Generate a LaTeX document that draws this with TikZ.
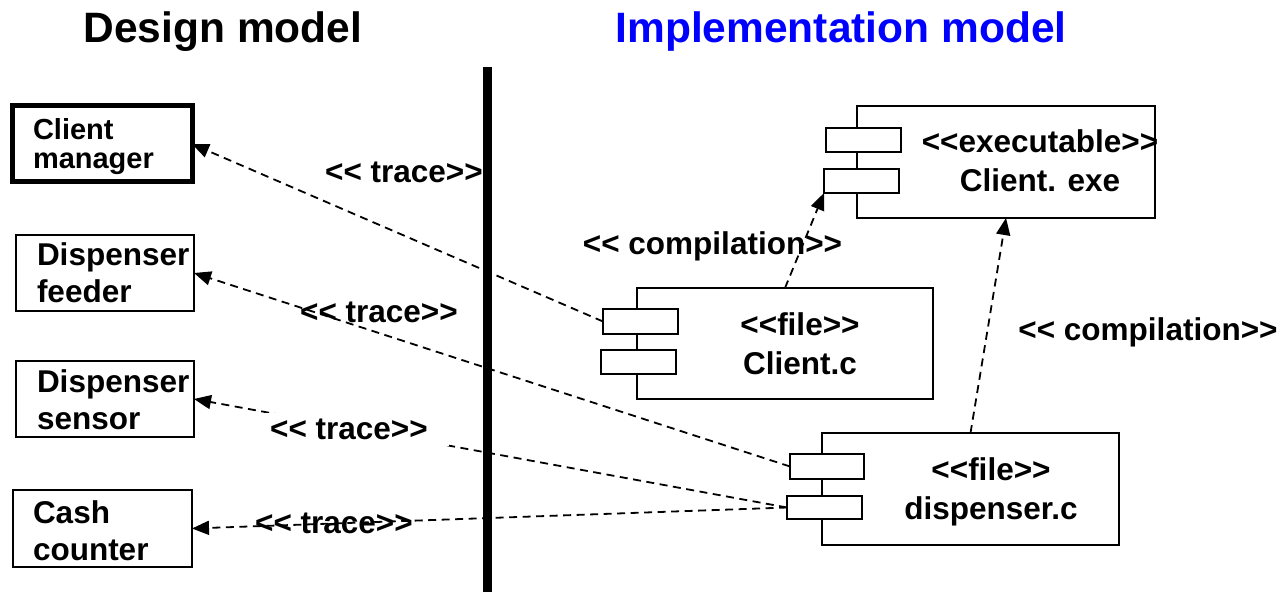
\documentclass[tikz,border=0pt]{standalone}
\usepackage{fontspec}
% plain font family, without the TeX input ligatures that turn << into a guillemet
\newfontfamily\umlfont{Liberation Sans}
\usetikzlibrary{arrows.meta}
\definecolor{implblue}{RGB}{0,0,255}
\begin{document}
\begin{tikzpicture}[x=1pt,y=-1pt,
  every node/.style={inner sep=0pt, outer sep=0pt},
  heading/.style={font=\umlfont\fontsize{42.5}{50}\selectfont\bfseries, anchor=base},
  txt/.style={font=\umlfont\fontsize{31.5}{37}\selectfont\bfseries},
  boxtext/.style={txt, anchor=base west, align=left},
  comptext/.style={font=\umlfont\fontsize{31.5}{39}\selectfont\bfseries, anchor=base, align=center},
  classbox/.style={draw, line width=2pt, fill=white},
  compbody/.style={draw, line width=2pt, fill=white},
  port/.style={draw, line width=2pt, fill=white, minimum width=75pt, minimum height=24pt},
  dep/.style={line width=1.8pt, dash pattern=on 8pt off 5.5pt, -{Triangle[length=17pt,width=14pt]}},
  stereo/.style={txt, anchor=base},
]
\useasboundingbox (0,0) rectangle (1283,593);

% headings
\node[heading] (hdesign) at (223,43) {Design model};
\node[heading, text=implblue] (himpl) at (841,43) {Implementation model};

% design-model classes (text anchored on the baseline of the last line)
\node[classbox, line width=5pt, minimum width=180pt, minimum height=76pt] (cm) at (102,144) {};
\node[boxtext, font=\umlfont\fontsize{29}{29}\selectfont\bfseries] (cmt) at (33,169) {Client\\manager};
\node[classbox, minimum width=178pt, minimum height=76pt] (df) at (105,273) {};
\node[boxtext] (dft) at (37,303) {Dispenser\\feeder};
\node[classbox, minimum width=178pt, minimum height=76pt] (ds) at (105,399) {};
\node[boxtext] (dst) at (37,430) {Dispenser\\sensor};
\node[classbox, minimum width=179pt, minimum height=77pt] (cash) at (102.5,528.5) {};
\node[boxtext] (casht) at (33,560) {Cash\\counter};

% implementation-model components
\node[compbody, minimum width=298pt, minimum height=112pt] (exe) at (1006,162) {};
\node[port] (exep1) at (863.5,140) {};
\node[port] (exep2) at (861.5,181) {};
\node[comptext] (exet) at (1040,192) {<<executable>>\\Client. exe};

\node[compbody, minimum width=296pt, minimum height=111pt] (clc) at (785,343.5) {};
\node[port, minimum height=25pt] (clcp1) at (640.5,321.5) {};
\node[port] (clcp2) at (638.5,362) {};
\node[comptext] (clct) at (800,375) {<<file>>\\Client.c};

\node[compbody, minimum width=297pt, minimum height=112pt] (dsc) at (970.5,489) {};
\node[port, minimum width=74pt, minimum height=25pt] (dscp1) at (827,466.5) {};
\node[port, minimum height=23pt] (dscp2) at (824.5,507.5) {};
\node[comptext] (dsct) at (991,519) {<<file>>\\dispenser.c};

% dependencies
\draw[dep] (clcp1.west) -- (cm.east);
\draw[dep] (dscp1.west) -- (df.east);
\draw[dep] (dscp2.west) -- (ds.east);
\draw[dep] (dscp2.west) -- (cash.east);
\draw[dep] (clc.north) -- (exep2.south west);
\draw[dep] (dsc.north) -- (exe.south);

% dependency labels
\node[stereo] (tr1) at (404,183) {<< trace>>};
\node[stereo] (tr2) at (379,323) {<< trace>>};
\node[stereo, fill=white, inner xsep=21pt, inner ysep=6pt] (tr3) at (349,440) {<< trace>>};
\node[stereo] (tr4) at (334,533) {<< trace>>};
\node[stereo] (cp1) at (712.5,255) {<< compilation>>};
\node[stereo] (cp2) at (1148,341) {<< compilation>>};

% boundary between the two models
\draw[line width=8.5pt] (487.5,67) -- (487.5,592);
\end{tikzpicture}
\end{document}
